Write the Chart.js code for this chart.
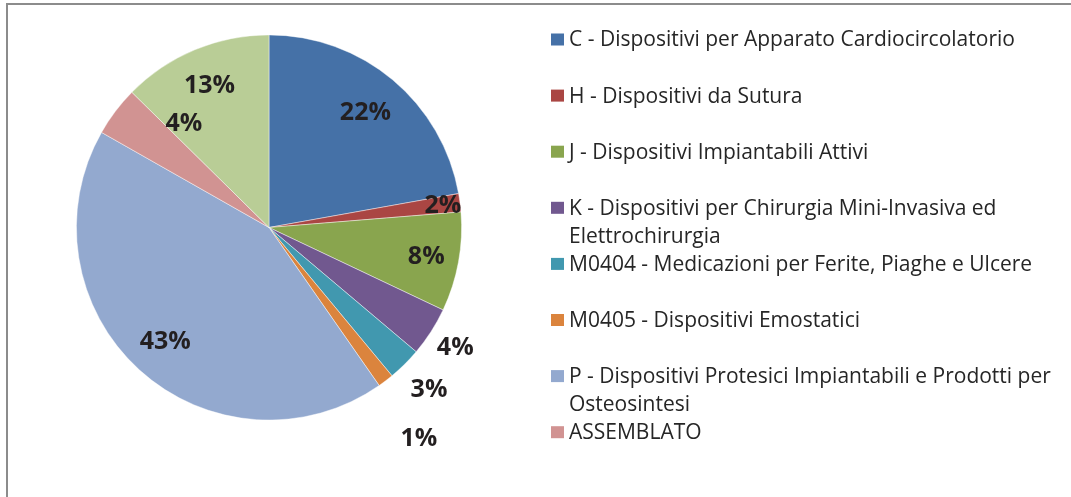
<!DOCTYPE html>
<html>
<head>
<meta charset="utf-8">
<title>Dispositivi medici - ripartizione</title>
<script src="https://cdn.jsdelivr.net/npm/chart.js@4"></script>
<style>
  html, body { margin: 0; padding: 0; background: #fff; }
  #wrap { position: relative; width: 1071px; height: 497px; }
</style>
</head>
<body>
<div id="wrap"><canvas id="pie"></canvas></div>
<script>
// ---------- Data ----------
const categories = [
  'C - Dispositivi per Apparato Cardiocircolatorio',
  'H - Dispositivi da Sutura',
  'J - Dispositivi Impiantabili Attivi',
  'K - Dispositivi per Chirurgia Mini-Invasiva ed Elettrochirurgia',
  'M0404 - Medicazioni per Ferite, Piaghe e Ulcere',
  'M0405 - Dispositivi Emostatici',
  'P - Dispositivi Protesici Impiantabili e Prodotti per Osteosintesi',
  'ASSEMBLATO',
  'Altro'
];
const shares = [22.18, 1.53, 8.33, 4.12, 2.82, 1.33, 42.91, 4.17, 12.61];

const sliceColors = ['#4571a7', '#aa4643', '#89a54e', '#71588f', '#4198af',
                     '#db843d', '#93a9cf', '#d19392', '#b9cd96'];

// where each % label sits: radius as fraction of the pie radius, angle nudge in degrees
const labelRadius = [0.78, 0.91, 0.83, 1.15, 1.18, 1.34, 0.80, 0.70, 0.80];
const labelNudge  = [0, 0, 0, 0, 0, 1.8, 0, 13.7, 0];

const total = shares.reduce((a, b) => a + b, 0);
function pct(v) { return Math.round(v / total * 100) + '%'; }

// ---------- Plugins ----------
// grey frame on the top and left edges
const framePlugin = {
  id: 'frame',
  beforeDraw(chart) {
    const ctx = chart.ctx;
    ctx.save();
    ctx.strokeStyle = '#8c8c8c';
    ctx.lineWidth = 2;
    ctx.beginPath();
    ctx.moveTo(7, chart.height);
    ctx.lineTo(7, 4);
    ctx.lineTo(chart.width, 4);
    ctx.stroke();
    ctx.restore();
  }
};

// percentage labels placed from each arc's geometry
const pctLabels = {
  id: 'pctLabels',
  afterDatasetsDraw(chart) {
    const ctx = chart.ctx;
    const meta = chart.getDatasetMeta(0);
    ctx.save();
    ctx.font = 'bold 25px "Open Sans"';
    ctx.fillStyle = '#231f20';
    ctx.textAlign = 'center';
    ctx.textBaseline = 'middle';
    meta.data.forEach((arc, i) => {
      const p = arc.getProps(['x', 'y', 'startAngle', 'endAngle', 'outerRadius'], true);
      const mid = (p.startAngle + p.endAngle) / 2 + labelNudge[i] * Math.PI / 180;
      const r = p.outerRadius * labelRadius[i];
      ctx.fillText(pct(shares[i]), p.x + Math.cos(mid) * r, p.y + Math.sin(mid) * r + 1);
    });
    ctx.restore();
  }
};

// legend on the right, wrapped text, fixed slot per entry, clipped at the box bottom
const sideLegend = {
  id: 'sideLegend',
  afterDraw(chart) {
    const ctx = chart.ctx;
    const left = 551, textX = 569, top = 39.5, slot = 56.1, lineH = 28;
    const maxW = chart.width - textX - 6;
    ctx.save();
    ctx.font = '21px "Open Sans"';
    ctx.textBaseline = 'middle';
    categories.forEach((name, i) => {
      const y = top + i * slot;
      if (y > 460) return;
      ctx.fillStyle = sliceColors[i];
      ctx.fillRect(left, y - 6, 13, 12);
      // wrap words
      const words = name.split(' ');
      let lines = [], cur = '';
      words.forEach(w => {
        const t = cur ? cur + ' ' + w : w;
        if (ctx.measureText(t).width > maxW && cur) { lines.push(cur); cur = w; }
        else cur = t;
      });
      lines.push(cur);
      ctx.fillStyle = '#262626';
      lines.forEach((ln, k) => ctx.fillText(ln, textX, y + 1 + k * lineH));
    });
    ctx.restore();
  }
};

// ---------- Chart ----------
const ctx = document.getElementById('pie').getContext('2d');
new Chart(ctx, {
  type: 'pie',
  data: {
    labels: categories,
    datasets: [{
      data: shares,
      backgroundColor: sliceColors,
      borderColor: 'rgba(255,255,255,0.55)',
      borderWidth: 0.8
    }]
  },
  options: {
    responsive: true,
    maintainAspectRatio: false,
    animation: false,
    layout: { padding: { top: 34, bottom: 76, left: 76, right: 609 } },
    plugins: {
      legend: { display: false },
      tooltip: { enabled: false }
    }
  },
  plugins: [framePlugin, pctLabels, sideLegend]
});
</script>
</body>
</html>
